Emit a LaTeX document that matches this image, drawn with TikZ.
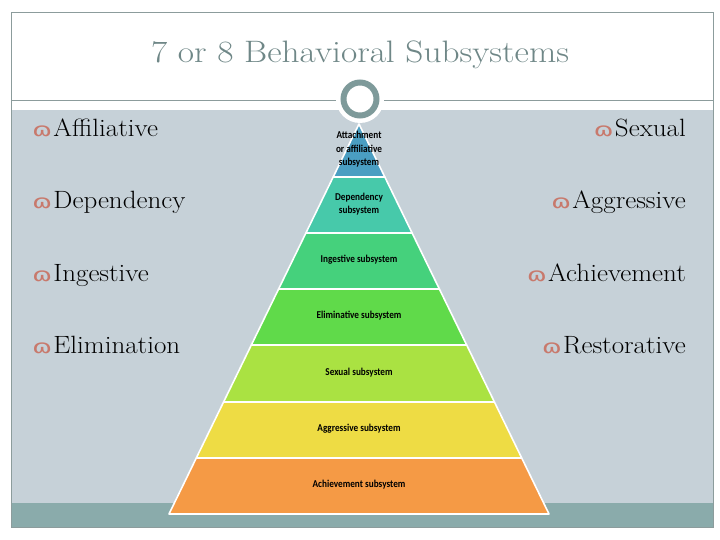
\documentclass[tikz,border=0pt]{standalone}
\usepackage{fontspec}
\newfontfamily\labfont{Carlito}
\newfontfamily\symfont{DejaVu Sans}
\definecolor{bgblue}{HTML}{C6D1D8}
\definecolor{bandteal}{HTML}{8AABAB}
\definecolor{framegray}{HTML}{8C9C9C}
\definecolor{titlegray}{HTML}{6F8787}
\definecolor{ringgray}{HTML}{7E9A9A}
\definecolor{bulred}{HTML}{C8796C}
\definecolor{tA}{HTML}{4A9EC2}
\definecolor{tB}{HTML}{47C9AA}
\definecolor{tC}{HTML}{45D17C}
\definecolor{tD}{HTML}{60DA4A}
\definecolor{tE}{HTML}{AAE242}
\definecolor{tF}{HTML}{EEDC44}
\definecolor{tG}{HTML}{F59A45}
\newcommand{\bul}{{\color{bulred}\fontsize{19}{19}\symfont\scalebox{1.35}[1]{ɷ}}\hspace{1pt}}
\tikzset{
  titletext/.style={text=titlegray, font=\fontsize{31}{36}\selectfont, inner sep=0pt, xscale=1.14},
  item/.style={font=\fontsize{25}{28}\selectfont, inner sep=0pt, xscale=1.08},
  tierlab/.style={font=\labfont\bfseries\fontsize{10.5}{13.5}\selectfont, align=center, inner sep=0pt, xscale=0.88},
  tierfill/.style={draw=white, line width=1.6pt, line join=round}
}
\begin{document}
\begin{tikzpicture}[x=1pt,y=-1pt]
\useasboundingbox (0,0) rectangle (720,540);
\fill[white] (0,0) rectangle (720,540);
\fill[bgblue] (11,110) rectangle (713,503);
\fill[bandteal] (11,503) rectangle (713,527);
\draw[framegray, line width=0.8pt] (11,100) -- (713,100);
\draw[framegray, line width=0.8pt] (11,12) rectangle (713,527);
\node[titletext, anchor=base] (title) at (360,63) {7 or 8 Behavioral Subsystems};
% pyramid
\foreach \ya/\yb/\tc/\tt/\tn in {
  124/177/tA/{Attachment\\or affiliative\\subsystem}/p1,
  177/233/tB/{Dependency\\subsystem}/p2,
  233/289/tC/{Ingestive subsystem}/p3,
  289/345/tD/{Eliminative subsystem}/p4,
  345/402/tE/{Sexual subsystem}/p5,
  402/458/tF/{Aggressive subsystem}/p6,
  458/514/tG/{Achievement subsystem}/p7}{
  \pgfmathsetmacro\wa{(\ya-124)/390*190}
  \pgfmathsetmacro\wb{(\yb-124)/390*190}
  \fill[\tc, tierfill] ({359-\wa},\ya) -- ({359+\wa},\ya) -- ({359+\wb},\yb) -- ({359-\wb},\yb) -- cycle;
  \node[tierlab] (\tn) at (359,{(\ya+\yb)/2-1}) {\tt};
}
% ring
\fill[white] (360,99) circle (24);
\draw[ringgray, line width=6pt] (360,99) circle (16.5);
\node[inner sep=0pt, minimum size=39pt, circle] (ring) at (360,99) {};
% items
\node[item, anchor=base west] (l1) at (32,137) {\bul Affiliative};
\node[item, anchor=base west] (l2) at (32,209) {\bul Dependency};
\node[item, anchor=base west] (l3) at (32,281) {\bul Ingestive};
\node[item, anchor=base west] (l4) at (32,353) {\bul Elimination};
\node[item, anchor=base east] (r1) at (686,137) {\bul Sexual};
\node[item, anchor=base east] (r2) at (686,209) {\bul Aggressive};
\node[item, anchor=base east] (r3) at (686,281) {\bul Achievement};
\node[item, anchor=base east] (r4) at (686,353) {\bul Restorative};
\end{tikzpicture}
\end{document}
